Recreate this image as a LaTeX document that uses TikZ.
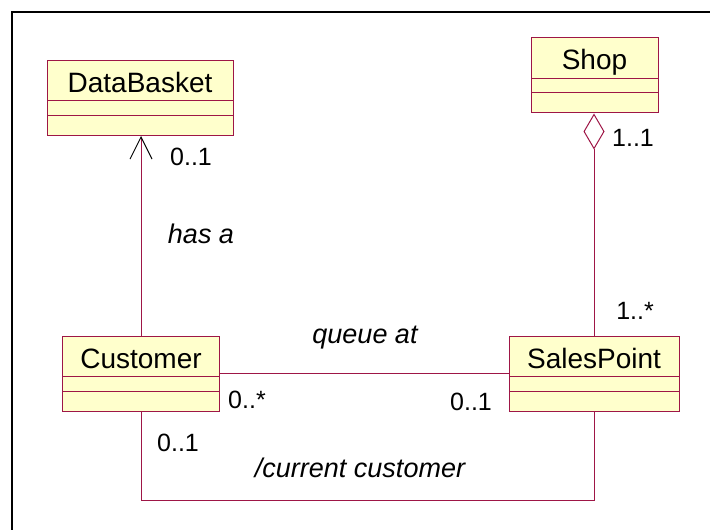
\documentclass[tikz,border=0pt]{standalone}
\usepackage{fontspec}
\setmainfont{Liberation Sans}
\usetikzlibrary{arrows.meta,positioning}
\definecolor{umlred}{RGB}{158,22,70}
\definecolor{umlyel}{RGB}{255,255,204}
\tikzset{
    clsyel/.style={draw=umlred,fill=umlyel,line width=.5pt,minimum height=37.5pt,inner sep=0pt,text height=10pt,text depth=15.5pt,font=\fontsize{14}{16}\selectfont,
        path picture={\draw[umlred,line width=.5pt] ([yshift=-20.25pt]path picture bounding box.north west) -- ([yshift=-20.25pt]path picture bounding box.north east);
                      \draw[umlred,line width=.5pt] ([yshift=-27.5pt]path picture bounding box.north west) -- ([yshift=-27.5pt]path picture bounding box.north east);}},
    mult/.style={inner sep=0pt,font=\fontsize{12.5}{14}\selectfont},
    role/.style={inner sep=0pt,font=\fontsize{13.5}{15}\selectfont\itshape},
    line/.style={draw=umlred,line width=.5pt},
    arrowopen/.style={line,-{Straight Barb[length=11pt,width=11pt,color=black]}},
    aggrdia/.style={line,{Diamond[open,length=18pt,width=10.5pt]}-},
    frame/.style={draw=black,line width=1pt}
}

\begin{document}
\begin{tikzpicture}[x=.5pt,y=-.5pt]
        \useasboundingbox (0,0) rectangle (710,529);
        \draw[frame] (12,540) -- (12,12) -- (720,12);

        \node[clsyel,minimum width=93pt] (dbsk) at (140,98) {DataBasket};
        \node[clsyel,minimum width=63.5pt] (shop) at (594.5,75.5) {Shop};
        \node[clsyel,minimum width=78.5pt] (cust) at (141,373.5) {Customer};
        \node[clsyel,minimum width=85pt] (spnt) at (594,373.5) {SalesPoint};

        \node[mult] (dbmult) at (191,157) {0..1};
        \node[role] (hasa) at (201,234) {has a};
        \node[mult] (shmult) at (633,138) {1..1};
        \node[mult] (spmult) at (635,311) {1..*};
        \node[role] (queue) at (365,338) {queue at};
        \node[mult] (cumult) at (247,400) {0..*};
        \node[mult] (qmult) at (471,402) {0..1};
        \node[mult] (ccmult) at (178,443) {0..1};
        \node[role] (curr) at (360,468) {/current customer};

        \begin{scope}
            \draw[arrowopen] (cust.north) -- (cust.north |- dbsk.south);
            \draw[aggrdia] (spnt.north |- shop.south) -- (spnt.north);
            \draw[line] (cust.east) -- (spnt.west);
            \draw[line] (spnt.south) -- ++(0,89) -| (cust.south);
        \end{scope}
    \end{tikzpicture}
\end{document}
